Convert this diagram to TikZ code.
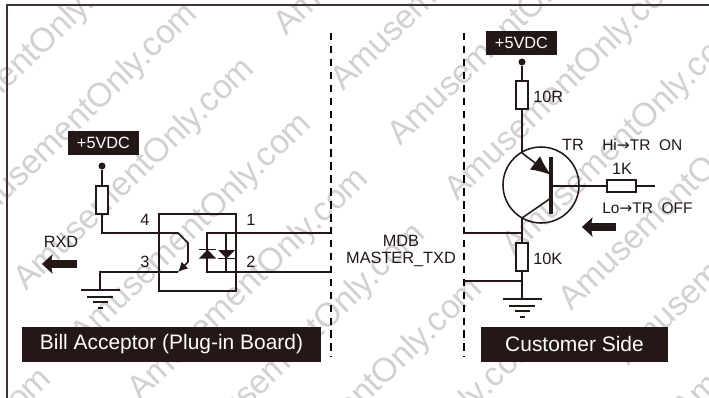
\documentclass[tikz,border=0pt]{standalone}
\usepackage{fontspec}
\setmainfont{Liberation Sans}
\newfontfamily\arrowfont{DejaVu Sans}
\usepackage{xcolor}
\usetikzlibrary{arrows.meta, calc, shapes.arrows}
\definecolor{boxblack}{RGB}{35, 24, 21}
\definecolor{framecol}{RGB}{62, 52, 50}
\newcommand{\lblfont}{\fontsize{11.6}{13}\selectfont}
\newcommand{\capfont}{\fontsize{14.9}{16}\selectfont}
\newcommand{\rarrow}{{\arrowfont→}}
\tikzstyle{wire} = [line width=1.1pt, draw=boxblack]
\tikzstyle{frameline} = [line width=1.1pt, draw=framecol]
\tikzstyle{sepline} = [line width=1.1pt, draw=black, dash pattern=on 5.3pt off 3.9pt]
\tikzstyle{resistor} = [rectangle, draw=boxblack, line width=1.1pt, fill=white, inner sep=0pt, minimum width=3mm, minimum height=7mm]
\tikzstyle{resistorh} = [resistor, minimum width=7.25mm, minimum height=3mm]
\tikzstyle{railbox} = [rectangle, fill=boxblack, text=white, inner sep=0pt, minimum width=17.75mm, minimum height=6mm, font=\lblfont]
\tikzstyle{captionbox} = [rectangle, fill=boxblack, text=white, inner sep=0pt, minimum height=8.75mm, font=\capfont]
\tikzstyle{raildot} = [circle, fill=boxblack, inner sep=0pt, minimum size=1.75mm]
\tikzstyle{lbl} = [inner sep=0pt, font=\lblfont, text=boxblack]
\tikzstyle{blockarrow} = [single arrow, fill=boxblack, inner sep=0pt, shape border rotate=180, single arrow head extend=1.5mm, single arrow tip angle=85, single arrow head indent=0.3mm]
\tikzstyle{watermark} = [text=black!18, inner sep=0pt, rotate=44, font=\fontsize{23.9}{26}\selectfont]
% ground symbol below a named point
\newcommand{\gndsym}[1]{
    \draw[wire] ($(#1)+(-19.5,0)$) -- ($(#1)+(19.5,0)$);
    \draw[wire] ($(#1)+(-13,7)$) -- ($(#1)+(13,7)$);
    \draw[wire] ($(#1)+(-7.5,12)$) -- ($(#1)+(7.5,12)$);
    \draw[wire] ($(#1)+(-2.5,18)$) -- ($(#1)+(2.5,18)$);
}
\begin{document}
\begin{tikzpicture}[x=0.25mm, y=-0.25mm]
    \useasboundingbox (0,0) rectangle (709,398);
    \fill[white] (0,0) rectangle (709,398);

    % Watermark
    \begin{scope}
        \clip (0,0) rectangle (709,398);
        \foreach \j/\ifrom/\ito in {-2/0/2, -1/-4/5, 0/0/7} {
            \foreach \i in {\ifrom,...,\ito} {
                \node[watermark, name=wm\i x\j] at ({395+57*\i+260*\j},{-80+55*\i-255*\j}) {AmusementOnly.com};
            }
        }
    \end{scope}

    % Frame and separators
    \draw[frameline] (709,5) -| (7,398);
    \coordinate (sepLtop) at (331,33);
    \coordinate (sepLbot) at (331,357);
    \coordinate (sepRtop) at (464,33);
    \coordinate (sepRbot) at (464,357);
    \draw[sepline] (sepLtop) -- (sepLbot);
    \draw[sepline] (sepRtop) -- (sepRbot);

    % Bill acceptor side
    \node[railbox] (vccL) at (103.5,143) {+5VDC};
    \node[raildot] (dotL) at (102,166) {};
    \node[resistor] (resL) at (102,200) {};
    \node[rectangle, draw=boxblack, line width=1.1pt, inner sep=0pt, minimum width=19.25mm, minimum height=19.25mm] (opto) at (197.5,252.5) {};
    \coordinate (pinC) at (178,233);
    \coordinate (kneeC) at (188,243);
    \coordinate (kneeE) at (188,262);
    \coordinate (pinE) at (178,272);
    \coordinate (gndL) at (100,290);
    \coordinate (ledTL) at (207,233);
    \coordinate (ledBL) at (207,272);
    \coordinate (ledTR) at (226,233);
    \coordinate (ledBR) at (226,272);
    \coordinate (sepPin1) at (331,233);
    \coordinate (sepPin2) at (331,272);

    \draw[wire] (dotL) -- (resL);
    \draw[wire] (resL) |- (pinC) -- (kneeC) -- (kneeE);
    \draw[wire, -{Latex[length=2.4mm, width=2.4mm]}] (kneeE) -- (pinE);
    \draw[wire] (pinE) -| (gndL);
    \gndsym{gndL}
    \draw[wire] (sepPin1) -- (ledTL) -- (ledBL) -- (sepPin2);
    \draw[wire] (ledTR) -- (ledBR);

    % LED pair
    \fill[boxblack] (207.5,249.5) -- (199,258.5) -- (216,258.5) -- cycle;
    \draw[wire] (199,249.5) -- (216,249.5);
    \fill[boxblack] (218,250) -- (235,250) -- (226.5,258.5) -- cycle;
    \draw[wire] (218,258.5) -- (235,258.5);

    \node[lbl] (pin4) at (145,220) {4};
    \node[lbl] (pin1) at (251,220) {1};
    \node[lbl] (pin3) at (145,262) {3};
    \node[lbl] (pin2) at (251,262) {2};
    \node[lbl] (rxd) at (61,242) {RXD};
    \node[blockarrow, minimum height=8.75mm] (arrowL) at (61.5,264) {\rule{0pt}{1.75mm}};
    \node[captionbox, minimum width=74.75mm] (capL) at (171.5,344.5) {Bill Acceptor (Plug-in Board)};

    % MDB signal
    \node[lbl] (mdb) at (401,241) {MDB};
    \node[lbl] (txd) at (401,259) {MASTER\_TXD};

    % Customer side
    \node[railbox] (vccR) at (521.5,43) {+5VDC};
    \node[raildot] (dotR) at (522,62) {};
    \node[resistor] (res10r) at (522,95) {};
    \node[resistor] (res10k) at (522,257) {};
    \node[resistorh] (res1k) at (621.5,186) {};
    \node[circle, draw=boxblack, line width=1.1pt, inner sep=0pt, minimum size=19mm] (tr) at (541,185) {};
    \coordinate (emit) at (522,153);
    \coordinate (coll) at (522,218);
    \coordinate (barT) at (551,157);
    \coordinate (barB) at (551,214);
    \coordinate (barE) at (551,175);
    \coordinate (barC) at (551,198);
    \coordinate (barM) at (551,186);
    \coordinate (baseEnd) at (655,186);
    \coordinate (gndR) at (522,299);
    \coordinate (tapA) at (522,233);
    \coordinate (tapB) at (522,281);
    \coordinate (sepA) at (464,233);
    \coordinate (sepB) at (464,281);

    \draw[wire] (dotR) -- (res10r);
    \draw[wire] (res10r) -- (emit);
    \draw[wire, -{Latex[length=5mm, width=4.2mm]}] (emit) -- (barE);
    \draw[line width=2.8pt, draw=boxblack] (barT) -- (barB);
    \draw[wire] (barC) -- (coll) -- (res10k);
    \draw[wire] (res10k) -- (gndR);
    \gndsym{gndR}
    \draw[wire] (sepA) -- (tapA);
    \draw[wire] (sepB) -- (tapB);
    \draw[wire] (barM) -- (res1k);
    \draw[wire] (res1k) -- (baseEnd);

    \node[lbl, anchor=west] (lbl10r) at (533,97) {10R};
    \node[lbl, anchor=west] (lbl10k) at (533,259) {10K};
    \node[lbl] (lbltr) at (573,145) {TR};
    \node[lbl] (lbl1k) at (622,169) {1K};
    \node[lbl, anchor=west, font=\fontsize{11}{13}\selectfont] (lblhi) at (602,145) {Hi\rarrow TR\ \ ON};
    \node[lbl, anchor=west, font=\fontsize{11}{13}\selectfont] (lbllo) at (602,208) {Lo\rarrow TR\ \ OFF};
    \node[blockarrow, minimum height=8.5mm] (arrowR) at (601,227) {\rule{0pt}{1.75mm}};
    \node[captionbox, minimum width=46.75mm] (capR) at (574.5,344.5) {Customer Side};
\end{tikzpicture}
\end{document}
